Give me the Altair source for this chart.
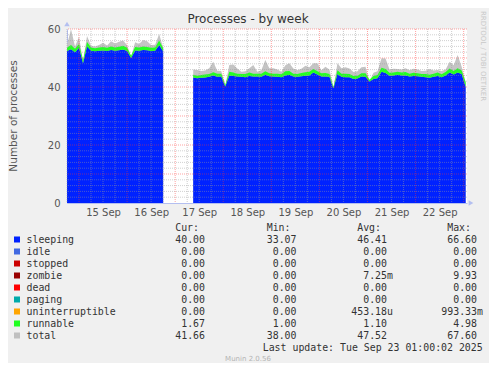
import re
import altair as alt
import pandas as pd

# ---------------- data ----------------
# segment 1: 2-hourly samples from 14 Sep 18:00
seg1_sleeping = [52.4, 53.0, 52.0, 53.5, 48.2, 54.0, 52.5, 52.3, 52.5, 52.6, 52.4, 52.8, 52.5,
                 52.7, 52.9, 52.4, 50.0, 52.6, 52.5, 52.8, 52.7, 52.4, 52.5, 54.5, 52.3]
seg1_runnable = [1.1, 1.5, 1.2, 1.3, 1.0, 1.5, 1.1, 1.1, 1.1, 1.2, 1.1, 1.2, 1.1,
                 1.2, 1.3, 1.1, 0.8, 1.2, 1.1, 1.2, 1.1, 1.1, 1.1, 1.5, 1.1]
seg1_total = [54.5, 60.0, 54.0, 57.3, 49.0, 57.6, 54.2, 54.0, 54.5, 55.3, 54.3, 55.8, 55.0,
              55.6, 56.0, 54.4, 50.5, 55.4, 54.8, 56.2, 55.8, 54.5, 54.6, 58.3, 53.5]

# segment 2: 2-hourly samples from 17 Sep 09:00
seg2_sleeping = [43.3, 43.0, 43.2, 43.3, 43.5, 44.0, 43.5, 43.6, 40.2, 44.0, 43.8, 43.6, 43.5,
                 43.4, 43.8, 43.6, 43.6, 43.5, 44.2, 43.7, 43.6, 43.5, 43.4, 44.0, 44.2, 43.6,
                 43.5, 43.7, 43.9, 44.0, 45.0, 44.3, 43.6, 43.6, 43.5, 39.6, 44.5, 43.5, 43.4,
                 43.4, 42.8, 42.9, 43.6, 43.5, 41.9, 42.8, 43.0, 45.3, 44.8, 43.9, 44.0, 44.2,
                 44.0, 44.0, 43.6, 43.8, 43.7, 43.5, 43.4, 43.2, 43.5, 43.8, 43.4, 44.0, 45.0,
                 44.3, 45.0, 44.5, 40.0]
seg2_runnable = [0.9, 0.9, 0.9, 1.0, 1.0, 1.1, 1.1, 1.0, 0.5, 1.3, 1.2, 1.0, 1.0,
                 1.1, 1.2, 1.0, 1.0, 1.1, 1.2, 1.0, 1.0, 1.1, 1.0, 1.4, 1.3, 1.0,
                 1.0, 1.1, 1.2, 1.3, 1.2, 1.1, 1.1, 1.2, 1.0, 0.4, 1.3, 1.1, 1.2,
                 1.1, 1.0, 1.0, 1.1, 1.2, 0.6, 1.0, 1.1, 1.3, 1.4, 1.0, 1.0, 1.1,
                 1.0, 1.2, 1.0, 1.1, 1.0, 1.0, 1.1, 1.0, 1.1, 1.2, 1.0, 1.2, 1.4,
                 1.2, 1.5, 1.2, 1.67]
seg2_total = [46.0, 45.9, 45.5, 45.7, 46.5, 48.7, 45.6, 45.5, 40.5, 47.6, 47.8, 46.4, 45.3,
              45.4, 46.5, 47.6, 45.3, 45.8, 49.3, 46.5, 46.5, 46.0, 45.3, 47.5, 48.2, 46.4,
              45.8, 46.3, 47.3, 46.8, 48.2, 48.2, 45.8, 47.0, 46.0, 39.8, 48.2, 46.5, 46.8,
              46.4, 45.2, 45.4, 46.8, 47.0, 42.0, 44.9, 45.4, 49.9, 49.8, 46.0, 46.3, 46.2,
              46.0, 46.5, 45.8, 46.3, 46.0, 45.5, 45.6, 46.2, 45.7, 45.9, 45.5, 46.0, 48.7,
              47.5, 51.0, 47.0, 41.66]

y_ticks = [0, 10, 20, 30, 40, 50, 60]
day_labels = ["15 Sep", "16 Sep", "17 Sep", "18 Sep", "19 Sep", "20 Sep", "21 Sep", "22 Sep"]

legend_names = ["sleeping", "idle", "stopped", "zombie", "dead", "paging",
                "uninterruptible", "runnable", "total"]
legend_colors = ["#0022ff", "#4169e1", "#cc0000", "#990000", "#ff0000", "#00aaaa",
                 "#ffa500", "#22ff22", "#c0c0c0"]
cur_vals = ["40.00", "0.00", "0.00", "0.00", "0.00", "0.00", "0.00", "1.67", "41.66"]
min_vals = ["33.07", "0.00", "0.00", "0.00", "0.00", "0.00", "0.00", "1.00", "38.00"]
avg_vals = ["46.41", "0.00", "0.00", "7.25m", "0.00", "0.00", "453.18u", "1.10", "47.52"]
max_vals = ["66.60", "0.00", "0.00", "9.93", "0.00", "0.00", "993.33m", "4.98", "67.60"]
col_headers = ["Cur:", "Min:", "Avg:", "Max:"]
last_update = "Last update: Tue Sep 23 01:00:02 2025"

# ---------------- tables ----------------
t1 = pd.date_range("2025-09-14 18:00", periods=len(seg1_sleeping), freq="2h")
t2 = pd.date_range("2025-09-17 09:00", periods=len(seg2_sleeping), freq="2h")
df = pd.concat([
    pd.DataFrame({"time": t1, "seg": 1, "sleeping": seg1_sleeping,
                  "runnable": seg1_runnable, "total": seg1_total}),
    pd.DataFrame({"time": t2, "seg": 2, "sleeping": seg2_sleeping,
                  "runnable": seg2_runnable, "total": seg2_total}),
], ignore_index=True)
df["top"] = df["sleeping"] + df["runnable"]

label_times = pd.date_range("2025-09-15 12:00", periods=len(day_labels), freq="1D")
major_v = pd.DataFrame({"time": pd.date_range("2025-09-15 00:00", "2025-09-23 00:00", freq="1D")})
minor_all = pd.date_range("2025-09-14 18:00", "2025-09-23 00:00", freq="6h")
minor_v = pd.DataFrame({"time": [t for t in minor_all if t.hour != 0]})
major_h = pd.DataFrame({"v": [v for v in y_ticks if v > 0]})
minor_h = pd.DataFrame({"v": [v for v in range(2, 60, 2) if v % 10 != 0]})

# legend layout (pixel positions relative to plot origin)
ROW0, ROWH = 210.5, 12
col_right = [138, 229.5, 320, 410]
rows = []
for i, name in enumerate(legend_names):
    for j, vals in enumerate([cur_vals, min_vals, avg_vals, max_vals]):
        m = re.match(r"([0-9.]+)(.*)", vals[i])
        rows.append({"px": col_right[j], "py": ROW0 + ROWH * i, "num": m.group(1), "suf": m.group(2)})
vals_df = pd.DataFrame(rows)
names_df = pd.DataFrame({"name": legend_names, "color": legend_colors,
                         "py": [ROW0 + ROWH * i for i in range(len(legend_names))]})
head_df = pd.DataFrame({"h": col_headers, "px": [c - 6 for c in col_right], "py": ROW0 - ROWH})

x_dom = [alt.DateTime(year=2025, month=9, date=14, hours=18),
         alt.DateTime(year=2025, month=9, date=23, hours=1, minutes=40)]
xs = alt.Scale(domain=x_dom)
ys = alt.Scale(domain=[0, 60], nice=False)

base = alt.Chart(df)
X = alt.X("time:T", scale=xs, title=None,
          axis=alt.Axis(values=[t.isoformat() for t in label_times], format="%d %b",
                        grid=False, ticks=False, domain=True, domainColor="#b4bff0",
                        labelColor="#555555", labelFontSize=10, labelPadding=4,
                        labelFont="DejaVu Sans"))
Y = alt.Y("total:Q", scale=ys, title=None, stack=None,
          axis=alt.Axis(values=y_ticks, grid=False, ticks=False, domain=True,
                        domainColor="#b4bff0", labelColor="#555555", labelFontSize=10,
                        labelPadding=7, labelFont="DejaVu Sans"))

total_area = base.mark_area(color="#c4c4c4", interpolate="linear").encode(
    x=X, y=Y, detail="seg:N")
sleep_area = base.mark_area(color="#0022ff", interpolate="linear").encode(
    x=alt.X("time:T", scale=xs), y=alt.Y("sleeping:Q", scale=ys, stack=None), detail="seg:N")
run_area = base.mark_area(color="#22ff22", interpolate="linear").encode(
    x=alt.X("time:T", scale=xs), y=alt.Y("top:Q", scale=ys, stack=None), y2="sleeping:Q",
    detail="seg:N")

minor_v_rule = alt.Chart(minor_v).mark_rule(color="#999999", opacity=0.5, strokeDash=[1, 1]).encode(
    x=alt.X("time:T", scale=xs))
major_v_rule = alt.Chart(major_v).mark_rule(color="#ff3030", opacity=0.45, strokeDash=[1, 1]).encode(
    x=alt.X("time:T", scale=xs))
minor_h_rule = alt.Chart(minor_h).mark_rule(color="#999999", opacity=0.45, strokeDash=[1, 1]).encode(
    y=alt.Y("v:Q", scale=ys))
major_h_rule = alt.Chart(major_h).mark_rule(color="#ff3030", opacity=0.45, strokeDash=[1, 1]).encode(
    y=alt.Y("v:Q", scale=ys))

arrow_up = alt.Chart(pd.DataFrame({"a": [0]})).mark_point(
    shape="triangle-up", filled=True, color="#b4bff0", size=30, opacity=1).encode(
    x=alt.value(0), y=alt.value(-5))
arrow_right = alt.Chart(pd.DataFrame({"a": [0]})).mark_point(
    shape="triangle-right", filled=True, color="#b4bff0", size=30, opacity=1).encode(
    x=alt.value(404), y=alt.value(174))

def txt(text, x, y, **kw):
    return alt.Chart(pd.DataFrame({"t": [text]})).mark_text(**kw).encode(
        text="t:N", x=alt.value(x), y=alt.value(y))

title = txt("Processes - by week", 181, -10, font="DejaVu Sans", fontSize=12, color="#333333")
ytitle = txt("Number of processes", -53, 87, font="DejaVu Sans", fontSize=10.5, color="#555555",
             angle=270)
rrd = txt("RRDTOOL / TOBI OETIKER", 416, 27, font="DejaVu Sans", fontSize=7,
          color="#c8c8c8", angle=90, baseline="middle")
munin = txt("Munin 2.0.56", 181, 329.5, font="DejaVu Sans", fontSize=7, color="#b4b4b4")
upd = txt(last_update, 415.7, ROW0 + ROWH * 9, font="DejaVu Sans Mono", fontSize=9.9,
          color="#333333", align="right", baseline="middle")

PX = lambda f: alt.X(f, scale=None, axis=None)
PY = lambda f: alt.Y(f, scale=None, axis=None)
mono = dict(font="DejaVu Sans Mono", fontSize=9.9, color="#333333", baseline="middle")

swatch = alt.Chart(names_df).mark_square(size=36, opacity=1, filled=True).encode(
    x=alt.value(-50), y=PY("py:Q"), color=alt.Color("color:N", scale=None, legend=None))
name_txt = alt.Chart(names_df).mark_text(align="left", **mono).encode(
    x=alt.value(-40.5), y=PY("py:Q"), text="name:N")
head_txt = alt.Chart(head_df).mark_text(align="right", **mono).encode(
    x=PX("px:Q"), y=PY("py:Q"), text="h:N")
num_txt = alt.Chart(vals_df).mark_text(align="right", **mono).encode(
    x=PX("px:Q"), y=PY("py:Q"), text="num:N")
suf_txt = alt.Chart(vals_df).mark_text(align="left", **mono).encode(
    x=PX("px:Q"), y=PY("py:Q"), text="suf:N")

chart = alt.layer(
    total_area, sleep_area, run_area,
    minor_v_rule, minor_h_rule, major_v_rule, major_h_rule,
    arrow_up, arrow_right,
    title, ytitle, rrd, munin, upd,
    swatch, name_txt, head_txt, num_txt, suf_txt,
).properties(
    width=400, height=174,
    autosize=alt.AutoSizeParams(type="none"),
    padding={"left": 59, "top": 21, "right": 22, "bottom": 160},
    background="#f0f0f0",
).configure_view(fill="white", strokeWidth=0)

chart.save("out.html", embed_options={"renderer": "svg", "actions": False})
